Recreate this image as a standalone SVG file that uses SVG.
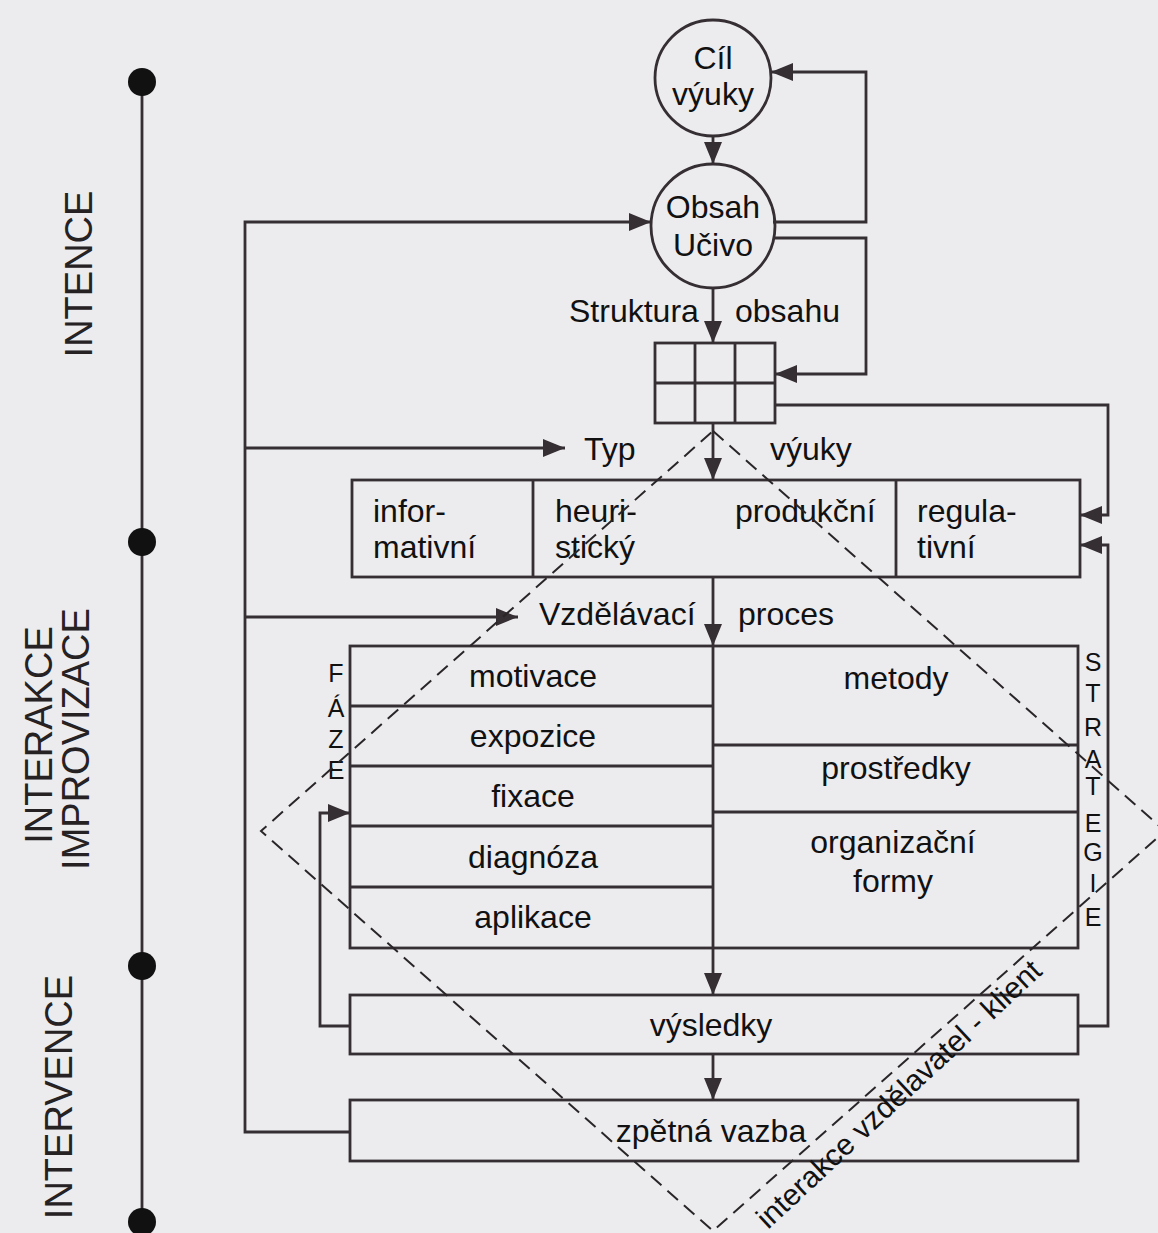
<svg xmlns="http://www.w3.org/2000/svg" width="1158" height="1233" viewBox="0 0 1158 1233">
<style>
.ln{fill:none;stroke:#352e32;stroke-width:2.8}
.tx{font-family:"Liberation Sans",Arial,sans-serif;font-size:32px;fill:#111}
.mid{text-anchor:middle}
.lab{font-family:"Liberation Sans",Arial,sans-serif;font-size:38px;fill:#262224;text-anchor:middle}
.sm{font-family:"Liberation Sans",Arial,sans-serif;font-size:25px;fill:#111;text-anchor:middle}
.dash{fill:none;stroke:#2a2628;stroke-width:2;stroke-dasharray:14 8}
.dot{fill:#111}
</style>
<defs>
<marker id="ah" markerUnits="userSpaceOnUse" markerWidth="22" markerHeight="18" refX="22" refY="9" orient="auto">
<path d="M0,0 L22,9 L0,18 z" fill="#352e32"/>
</marker>
</defs>
<rect width="1158" height="1233" fill="#ececef"/>

<g id="timeline">
<line class="ln" x1="142" y1="82" x2="142" y2="1222"/>
<circle class="dot" cx="142" cy="82" r="14"/>
<circle class="dot" cx="142" cy="542" r="14"/>
<circle class="dot" cx="142" cy="966" r="14"/>
<circle class="dot" cx="142" cy="1222" r="14"/>
<text class="lab" transform="translate(92,274) rotate(-90)">INTENCE</text>
<text class="lab" transform="translate(52,735) rotate(-90)">INTERAKCE</text>
<text class="lab" transform="translate(89,739) rotate(-90)">IMPROVIZACE</text>
<text class="lab" transform="translate(72,1097) rotate(-90)">INTERVENCE</text>
</g>

<g id="cil">
<circle class="ln" cx="713" cy="78" r="58"/>
<text class="tx mid" x="713" y="69">Cíl</text>
<text class="tx mid" x="713" y="105">výuky</text>
</g>

<g id="obsah">
<circle class="ln" cx="713" cy="226" r="62"/>
<text class="tx mid" x="713" y="218">Obsah</text>
<text class="tx mid" x="713" y="256">Učivo</text>
</g>

<g id="struktura">
<text class="tx" x="569" y="322">Struktura</text>
<text class="tx" x="735" y="322">obsahu</text>
<rect class="ln" x="655" y="343" width="120" height="80"/>
<line class="ln" x1="695" y1="343" x2="695" y2="423"/>
<line class="ln" x1="735" y1="343" x2="735" y2="423"/>
<line class="ln" x1="655" y1="383" x2="775" y2="383"/>
</g>

<g id="typ">
<text class="tx" x="584" y="460">Typ</text>
<text class="tx" x="770" y="460">výuky</text>
<rect class="ln" x="352" y="480" width="728" height="97"/>
<line class="ln" x1="533" y1="480" x2="533" y2="577"/>
<line class="ln" x1="896" y1="480" x2="896" y2="577"/>
<text class="tx" x="373" y="522">infor-</text>
<text class="tx" x="373" y="558">mativní</text>
<text class="tx" x="555" y="522">heuri-</text>
<text class="tx" x="555" y="558">stický</text>
<text class="tx" x="735" y="522">produkční</text>
<text class="tx" x="917" y="522">regula-</text>
<text class="tx" x="917" y="558">tivní</text>
</g>

<g id="proces">
<text class="tx" x="539" y="625">Vzdělávací</text>
<text class="tx" x="738" y="625">proces</text>
<rect class="ln" x="350" y="646" width="728" height="302"/>
<line class="ln" x1="350" y1="706" x2="713" y2="706"/>
<line class="ln" x1="350" y1="766" x2="713" y2="766"/>
<line class="ln" x1="350" y1="826" x2="713" y2="826"/>
<line class="ln" x1="350" y1="887" x2="713" y2="887"/>
<line class="ln" x1="713" y1="745" x2="1078" y2="745"/>
<line class="ln" x1="713" y1="812" x2="1078" y2="812"/>
<text class="tx mid" x="533" y="687">motivace</text>
<text class="tx mid" x="533" y="747">expozice</text>
<text class="tx mid" x="533" y="807">fixace</text>
<text class="tx mid" x="533" y="868">diagnóza</text>
<text class="tx mid" x="533" y="928">aplikace</text>
<text class="tx mid" x="896" y="689">metody</text>
<text class="tx mid" x="896" y="779">prostředky</text>
<text class="tx mid" x="893" y="853">organizační</text>
<text class="tx mid" x="893" y="892">formy</text>
<text class="sm" x="336" y="682">F</text>
<text class="sm" x="336" y="717">Á</text>
<text class="sm" x="336" y="748">Z</text>
<text class="sm" x="336" y="779">E</text>
<text class="sm" x="1093" y="671">S</text>
<text class="sm" x="1093" y="702">T</text>
<text class="sm" x="1093" y="736">R</text>
<text class="sm" x="1093" y="768">A</text>
<text class="sm" x="1093" y="795">T</text>
<text class="sm" x="1093" y="832">E</text>
<text class="sm" x="1093" y="861">G</text>
<text class="sm" x="1093" y="892">I</text>
<text class="sm" x="1093" y="926">E</text>
</g>

<g id="vysledky">
<rect class="ln" x="350" y="995" width="728" height="59"/>
<text class="tx mid" x="711" y="1036">výsledky</text>
</g>

<g id="zpetna">
<rect class="ln" x="350" y="1100" width="728" height="61"/>
<text class="tx mid" x="711" y="1142">zpětná vazba</text>
</g>

<g id="connectors">
<line class="ln" x1="713" y1="136" x2="713" y2="164" marker-end="url(#ah)"/>
<polyline class="ln" points="773,222 866,222 866,72 771,72" marker-end="url(#ah)"/>
<polyline class="ln" points="773,238 866,238 866,374 775,374" marker-end="url(#ah)"/>
<line class="ln" x1="713" y1="288" x2="713" y2="343" marker-end="url(#ah)"/>
<polyline class="ln" points="775,405 1108,405 1108,515 1080,515" marker-end="url(#ah)"/>
<polyline class="ln" points="1078,1026 1108,1026 1108,545 1080,545" marker-end="url(#ah)"/>
<polyline class="ln" points="350,1132 245,1132 245,222 651,222" marker-end="url(#ah)"/>
<line class="ln" x1="245" y1="448" x2="565" y2="448" marker-end="url(#ah)"/>
<line class="ln" x1="245" y1="617" x2="518" y2="617" marker-end="url(#ah)"/>
<line class="ln" x1="713" y1="423" x2="713" y2="480" marker-end="url(#ah)"/>
<line class="ln" x1="713" y1="577" x2="713" y2="646" marker-end="url(#ah)"/>
<line class="ln" x1="713" y1="646" x2="713" y2="948"/>
<line class="ln" x1="713" y1="948" x2="713" y2="995" marker-end="url(#ah)"/>
<line class="ln" x1="713" y1="1054" x2="713" y2="1100" marker-end="url(#ah)"/>
<polyline class="ln" points="350,1026 320,1026 320,813 350,813" marker-end="url(#ah)"/>
</g>

<g id="interakce">
<polygon class="dash" points="713,431 1165,831 713,1231 261,831"/>
<text class="tx" style="font-size:30px" transform="translate(768,1230) rotate(-43)">interakce vzdělavatel - klient</text>
</g>
</svg>
